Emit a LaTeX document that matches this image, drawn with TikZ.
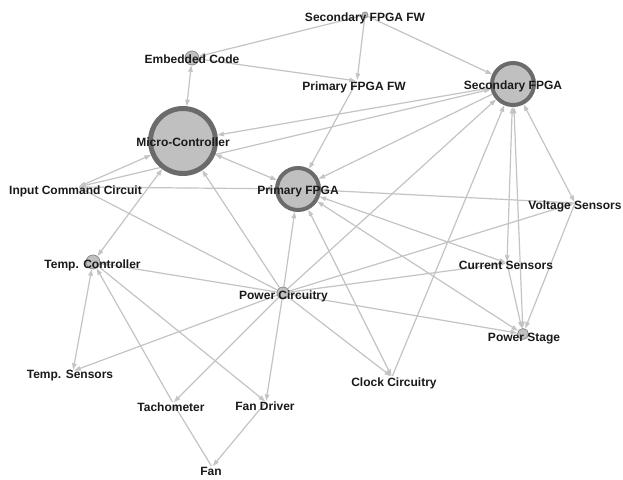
\documentclass[tikz,border=0pt]{standalone}
\usepackage{fontspec}
\setmainfont{Liberation Sans}
\usetikzlibrary{arrows.meta}
\pgfdeclarelayer{bglayer}
\pgfdeclarelayer{edgelayer}
\pgfsetlayers{bglayer,edgelayer,main}
\definecolor{linkgray}{HTML}{C4C4C4}
\definecolor{nodefill}{HTML}{C0C0C0}
\definecolor{ringgray}{HTML}{6B6B6B}
\definecolor{dotrim}{HTML}{8C8C8C}
\definecolor{labelink}{HTML}{1A1A1A}
\begin{document}
\begin{tikzpicture}[x=1pt,y=-1pt,
  tip/.tip={Triangle[length=6.5pt,width=4.5pt]},
  lnk/.style={draw=linkgray,line width=1.2pt,-tip},
  lnkb/.style={draw=linkgray,line width=1.2pt,tip-tip},
  hub/.style={circle,fill=nodefill,draw=ringgray,inner sep=0pt},
  dot/.style={circle,fill=nodefill,draw=dotrim,line width=0.8pt,inner sep=0pt},
  pin/.style={circle,inner sep=0pt,minimum size=2pt},
  lbl/.style={inner sep=0pt,text height=8.6pt,text depth=0pt,text=labelink,
              font=\fontsize{12}{14}\selectfont\bfseries}]
\begin{pgfonlayer}{bglayer}
\fill[white] (0,0) rectangle (623,479);
\end{pgfonlayer}
\useasboundingbox (0,0) rectangle (623,479);

% large hubs
\node[hub,line width=5pt,minimum size=65pt] (mc) at (183,141) {};
\node[hub,line width=4pt,minimum size=42pt] (sf) at (513,84) {};
\node[hub,line width=4pt,minimum size=42pt] (pf) at (298,189) {};
% small nodes
\node[dot,minimum size=14pt] (ec) at (192,58) {};
\node[dot,minimum size=14pt] (tc) at (93,262) {};
\node[dot,minimum size=12pt] (pc) at (283,293) {};
\node[dot,minimum size=11pt] (ps) at (523,334) {};
\node[dot,minimum size=6pt] (sfw) at (365,15) {};
% label-only nodes
\node[pin] (pfw) at (357,81) {};
\node[pin] (icc) at (78,187) {};
\node[pin] (vs) at (575,203) {};
\node[pin] (cs) at (507,263) {};
\node[pin] (ts) at (73,371) {};
\node[pin] (tach) at (173,403) {};
\node[pin] (fd) at (266,402) {};
\node[pin] (fan) at (212,467) {};
\node[pin] (cc) at (392,377) {};

% labels
\node[lbl] (mc-t) at (183,142) {Micro-Controller};
\node[lbl] (sf-t) at (513,85) {Secondary FPGA};
\node[lbl] (pf-t) at (298,190) {Primary FPGA};
\node[lbl] (ec-t) at (192,59) {Embedded Code};
\node[lbl] (tc-t) at (92.5,264) {Temp. Controller};
\node[lbl] (pc-t) at (283.5,295) {Power Circuitry};
\node[lbl] (ps-t) at (524,337) {Power Stage};
\node[lbl] (sfw-t) at (365,17) {Secondary FPGA FW};
\node[lbl] (pfw-t) at (354,86) {Primary FPGA FW};
\node[lbl] (icc-t) at (75.5,190) {Input Command Circuit};
\node[lbl] (vs-t) at (575,205) {Voltage Sensors};
\node[lbl] (cs-t) at (506,265) {Current Sensors};
\node[lbl] (ts-t) at (70,374) {Temp. Sensors};
\node[lbl] (tach-t) at (171,407) {Tachometer};
\node[lbl] (fd-t) at (265,406) {Fan Driver};
\node[lbl] (fan-t) at (211,471) {Fan};
\node[lbl] (cc-t) at (394,382) {Clock Circuitry};

\begin{pgfonlayer}{edgelayer}
% firmware
\draw[lnk] (sfw) -- (ec);
\draw[lnk] (sfw) -- (pfw);
\draw[lnk] (sfw) -- (sf);
\draw[lnkb] (ec) -- (mc);
\draw[lnk] (ec) -- (pfw);
\draw[lnk] (pfw) -- (pf);
% processors
\draw[lnkb] (sf) -- (mc);
\draw[lnkb] (mc) -- (pf);
\draw[lnk] (sf) -- (pf);
\draw[lnkb] (icc) -- (mc);
\draw[lnkb] (icc) -- (sf);
\draw[lnk] (icc) -- (pf);
\draw[lnk] (vs) -- (pf);
\draw[lnkb] (cc) -- (pf);
\draw[lnk] (cc) -- (sf);
\draw[lnkb] (cs) -- (sf);
\draw[lnkb] (ps) -- (sf);
\draw[lnkb] (vs) -- (sf);
\draw[lnkb] (pf) -- (ps);
\draw[lnkb] (pf) -- (cs);
\draw[lnk] (vs) -- (ps);
\draw[lnk] (cs) -- (ps);
% power distribution
\draw[lnk] (pc) -- (icc);
\draw[lnk] (pc) -- (mc);
\draw[lnk] (pc) -- (pf);
\draw[lnk] (pc) -- (sf);
\draw[lnk] (pc) -- (vs);
\draw[lnk] (pc) -- (cs);
\draw[lnk] (pc) -- (cc);
\draw[lnk] (pc) -- (ps);
\draw[lnk] (pc) -- (tc);
\draw[lnk] (pc) -- (ts);
\draw[lnk] (pc) -- (tach);
\draw[lnk] (pc) -- (fd);
% thermal loop
\draw[lnkb] (mc) -- (tc);
\draw[lnkb] (tc) -- (ts);
\draw[lnk] (tach) -- (tc);
\draw[lnk] (tc) -- (fd);
\draw[lnk] (fan) -- (tach);
\draw[lnk] (fd) -- (fan);
\end{pgfonlayer}
\end{tikzpicture}
\end{document}
